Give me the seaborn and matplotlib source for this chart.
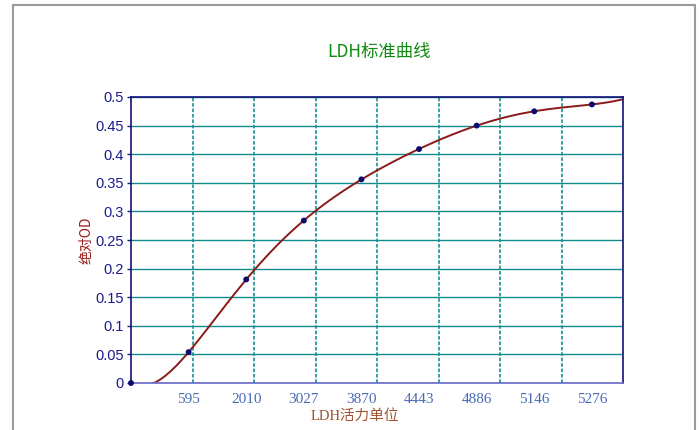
import matplotlib
matplotlib.use("Agg")
import matplotlib.pyplot as plt
import numpy as np
import pandas as pd
import seaborn as sns
from matplotlib.lines import Line2D

# standard curve readings (x is the sample index, labelled by activity)
activity_labels = ["595", "2010", "3027", "3870", "4443", "4886", "5146", "5276"]
sample_idx = [0, 1, 2, 3, 4, 5, 6, 7, 8]
od_values = [0.0, 0.054, 0.181, 0.284, 0.356, 0.409, 0.450, 0.475, 0.487]
y_ticks = [0, 0.05, 0.1, 0.15, 0.2, 0.25, 0.3, 0.35, 0.4, 0.45, 0.5]
y_tick_labels = ["0", "0.05", "0.1", "0.15", "0.2", "0.25", "0.3",
                 "0.35", "0.4", "0.45", "0.5"]

df = pd.DataFrame({"idx": sample_idx, "od": od_values})

sns.set_theme(style="white")
plt.rcParams["font.family"] = ["Noto Sans CJK SC", "DejaVu Sans"]

fig = plt.figure(figsize=(7, 4.3), dpi=100)
ax = fig.add_axes([131 / 700, 1 - 383 / 430, 492 / 700, 286 / 430])

x_max = 8.54
ax.set_xlim(0, x_max)
ax.set_ylim(0, 0.5)

# smooth fitted standard curve
sns.regplot(
    data=df, x="idx", y="od", order=7, ci=None, truncate=False,
    scatter=False, line_kws={"color": "#8b1a1a", "lw": 1.4}, ax=ax,
)
sns.scatterplot(
    data=df, x="idx", y="od", color="#0a0a6e", s=18, edgecolor="none",
    zorder=5, ax=ax, clip_on=False,
)

# grid: horizontal on y ticks, vertical at equal divisions of the x range
ax.set_yticks(y_ticks)
ax.set_yticklabels(y_tick_labels)
ax.set_xticks(sample_idx[1:])
ax.set_xticklabels(activity_labels)
ax.set_xticks(np.linspace(0, x_max, 9)[1:-1], minor=True)
ax.grid(False)
ax.grid(axis="y", which="major", color="#138a8a", lw=1.0)
ax.grid(axis="x", which="minor", color="#2a9a9a", lw=1.3, ls=(0, (2, 1)))
ax.set_axisbelow(True)

ax.tick_params(axis="y", which="major", left=True, length=3, width=1,
               color="#1a1a80", labelcolor="#1a1a90", labelsize=10.5, pad=2)
ax.tick_params(axis="x", which="both", bottom=False, labelcolor="#4a6ab8",
               labelsize=11, pad=1)
for lab in ax.get_yticklabels():
    lab.set_family(["Liberation Sans", "DejaVu Sans"])
for lab in ax.get_xticklabels():
    lab.set_family(["Liberation Serif", "DejaVu Serif"])

for side in ["left", "top", "right"]:
    ax.spines[side].set_color("#10107a")
    ax.spines[side].set_linewidth(1.2)
ax.spines["bottom"].set_color("#6a6ac8")
ax.spines["bottom"].set_linewidth(1.2)

ax.set_xlabel("LDH活力单位", color="#a0522d", fontsize=10.5,
              family=["Liberation Serif", "Noto Sans CJK SC"])
ax.xaxis.set_label_coords(0.455, -0.09)
ax.set_ylabel("绝对OD", color="#9a1a1a", fontsize=10)
ax.yaxis.set_label_coords(-0.077, 0.5)

fig.text(379 / 700, 1 - 52 / 430, "LDH标准曲线", color="#108a10",
         fontsize=12.5, ha="center", va="center")

# outer frame
for xs, ys in [([13 / 700, 13 / 700], [0, 1 - 5 / 430]),
               ([13 / 700, 695 / 700], [1 - 5 / 430, 1 - 5 / 430]),
               ([695 / 700, 695 / 700], [0, 1 - 5 / 430])]:
    fig.add_artist(Line2D(xs, ys, color="#9a9a9a", lw=1.5,
                          transform=fig.transFigure))

fig.savefig("out.png", dpi=100)
